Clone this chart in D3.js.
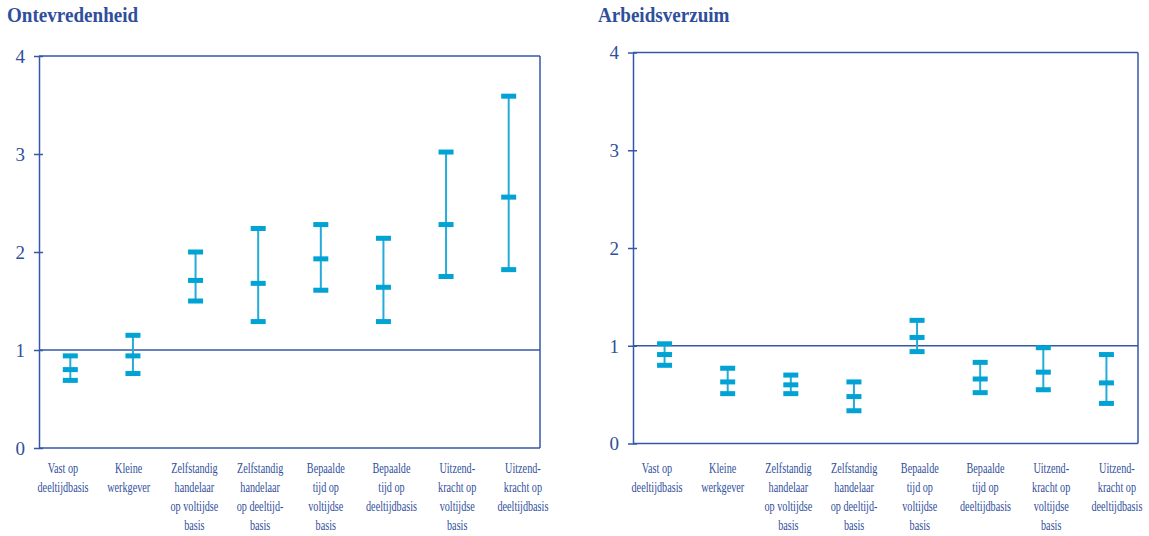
<!DOCTYPE html>
<html>
<head>
<meta charset="utf-8">
<script src="https://cdn.jsdelivr.net/npm/d3@7"></script>
<style>
  html, body { margin: 0; padding: 0; background: #fff; }
  svg { display: block; }
  text { font-family: "Liberation Serif", "Times New Roman", serif; }
</style>
</head>
<body>
<svg id="chart" width="1149" height="536"></svg>
<script>
// Categories (line breaks mark the wrapped label lines)
const categories = [
  "Vast op\ndeeltijdbasis",
  "Kleine\nwerkgever",
  "Zelfstandig\nhandelaar\nop voltijdse\nbasis",
  "Zelfstandig\nhandelaar\nop deeltijd-\nbasis",
  "Bepaalde\ntijd op\nvoltijdse\nbasis",
  "Bepaalde\ntijd op\ndeeltijdbasis",
  "Uitzend-\nkracht op\nvoltijdse\nbasis",
  "Uitzend-\nkracht op\ndeeltijdbasis"
];

// Ontevredenheid: lower bound, estimate, upper bound
const ontevredenLow  = [0.69, 0.76, 1.50, 1.29, 1.61, 1.29, 1.75, 1.82];
const ontevredenMid  = [0.80, 0.94, 1.71, 1.68, 1.93, 1.64, 2.28, 2.56];
const ontevredenHigh = [0.94, 1.15, 2.00, 2.24, 2.28, 2.14, 3.02, 3.59];

// Arbeidsverzuim: lower bound, estimate, upper bound
const verzuimLow  = [0.80, 0.51, 0.51, 0.335, 0.94, 0.52, 0.55, 0.41];
const verzuimMid  = [0.91, 0.63, 0.60, 0.48, 1.085, 0.66, 0.73, 0.62];
const verzuimHigh = [1.02, 0.77, 0.70, 0.63, 1.26, 0.83, 0.98, 0.91];

const yTicks = [0, 1, 2, 3, 4];
const referenceValue = 1;

const AXIS = "#3557a8";
const TEXT = "#2f4f9c";
const BAR = "#00a3d3";
const WHISKER = "#23acd9";

const svg = d3.select("#chart");

function panel(opts) {
  const { title, titleX, left, right, top, bottom, low, mid, high } = opts;
  const g = svg.append("g");

  const x = d3.scaleBand().domain(categories).range([left, right]);
  // label anchors run on a slightly wider pitch than the marks
  const xLabel = d3.scalePoint().domain(categories).range([left + 24, left + 24 + 7 * 65.7]);
  const y = d3.scaleLinear().domain([0, 4]).range([bottom, top]);

  // title
  g.append("text")
    .attr("transform", `translate(${titleX},22) scale(0.91,1)`)
    .attr("font-size", 21)
    .attr("font-weight", "bold")
    .attr("fill", TEXT)
    .text(title);

  // frame: top and right edges
  g.append("line").attr("x1", left).attr("x2", right).attr("y1", y(4)).attr("y2", y(4))
    .attr("stroke", AXIS).attr("stroke-width", 1.5);
  g.append("line").attr("x1", right).attr("x2", right).attr("y1", y(4)).attr("y2", y(0))
    .attr("stroke", AXIS).attr("stroke-width", 1.5);
  g.append("line").attr("x1", left).attr("x2", right).attr("y1", y(0)).attr("y2", y(0))
    .attr("stroke", AXIS).attr("stroke-width", 1.5);

  // reference line
  g.append("line").attr("x1", left).attr("x2", right)
    .attr("y1", y(referenceValue)).attr("y2", y(referenceValue))
    .attr("stroke", AXIS).attr("stroke-width", 1.5);

  // y axis
  const ax = g.append("g")
    .attr("transform", `translate(${left},0)`)
    .call(d3.axisLeft(y).tickValues(yTicks).tickFormat(d3.format("d"))
      .tickSizeInner(5).tickSizeOuter(0).tickPadding(9));
  ax.select(".domain").attr("stroke", AXIS).attr("stroke-width", 1.5);
  ax.selectAll(".tick line").attr("x1", 4).attr("stroke", AXIS).attr("stroke-width", 1.5);
  ax.selectAll(".tick text")
    .attr("fill", TEXT)
    .attr("font-size", 19)
    .attr("font-family", "Liberation Serif, Times New Roman, serif")
    .attr("dy", "0.34em");

  // error bars
  const rows = categories.map((c, i) => ({ c, lo: low[i], mid: mid[i], hi: high[i] }));
  const cx = d => x(d.c) + x.bandwidth() / 2;
  const bars = g.append("g").selectAll("g").data(rows).join("g");
  bars.append("line")
    .attr("x1", cx).attr("x2", cx)
    .attr("y1", d => y(d.lo)).attr("y2", d => y(d.hi))
    .attr("stroke", WHISKER).attr("stroke-width", 2);
  const capW = 15, capH = 5;
  ["lo", "mid", "hi"].forEach(k => {
    bars.append("rect")
      .attr("x", d => cx(d) - capW / 2)
      .attr("y", d => y(d[k]) - capH / 2)
      .attr("width", capW).attr("height", capH)
      .attr("fill", BAR);
  });

  // category labels
  const labels = g.append("g").selectAll("text").data(categories).join("text")
    .attr("transform", d => `translate(${xLabel(d)},473) scale(0.68,1)`)
    .attr("text-anchor", "middle")
    .attr("font-size", 15)
    .attr("fill", TEXT);
  labels.each(function(d) {
    d3.select(this).selectAll("tspan").data(d.split("\n")).join("tspan")
      .attr("x", 0).attr("y", (t, i) => i * 19).text(t => t);
  });
}

panel({
  title: "Ontevredenheid", titleX: 7,
  left: 39, right: 540, top: 56, bottom: 448,
  low: ontevredenLow, mid: ontevredenMid, high: ontevredenHigh
});
panel({
  title: "Arbeidsverzuim", titleX: 598,
  left: 633, right: 1138, top: 52.5, bottom: 443.5,
  low: verzuimLow, mid: verzuimMid, high: verzuimHigh
});
</script>
</body>
</html>
